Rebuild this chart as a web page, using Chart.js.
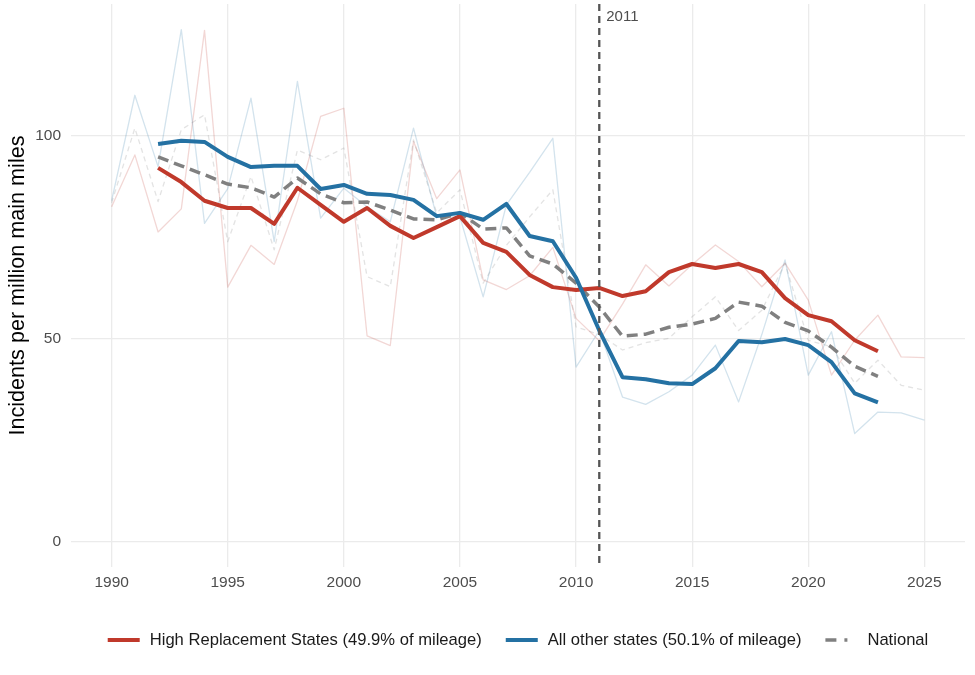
<!DOCTYPE html>
<html>
<head>
<meta charset="utf-8">
<script src="https://cdn.jsdelivr.net/npm/chart.js@4.4.1/dist/chart.umd.min.js"></script>
<style>
html,body{margin:0;padding:0;background:#fff;}
#wrap{width:975px;height:675px;position:relative;}
</style>
</head>
<body>
<div id="wrap"><canvas id="c" width="975" height="675"></canvas></div>
<script>
// ---- data ----
const rawYears = [1990,1991,1992,1993,1994,1995,1996,1997,1998,1999,2000,2001,2002,2003,2004,2005,2006,2007,2008,2009,2010,2011,2012,2013,2014,2015,2016,2017,2018,2019,2020,2021,2022,2023,2024,2025];
const highRaw = [82.5,95.3,76.3,82,126,62.7,73,68.3,84,104.8,106.8,50.7,48.3,98.6,84.5,91.6,64.5,62.1,65.5,72.5,55,49.5,58.5,68.2,63,68.3,73.1,69,62.8,68.6,59.5,41,49.6,55.8,45.5,45.3];
const otherRaw = [84,110,92.4,126.2,78.4,87,109.3,73.9,113.4,79.7,87.1,82.5,78.8,101.9,80,80,60.3,83,91,99.4,43,52,35.6,33.8,36.9,41,48.4,34.4,51,69.4,41,51.7,26.6,31.9,31.7,29.9];
const nationalRaw = [83.5,101.9,83.8,101.5,105.2,73.9,90,71.9,96.5,94.1,97,65.3,62.8,99,81,86.7,63.7,73,80,86.7,52.9,51,47.2,49,50.1,55.4,60.3,52,57,68.6,49.6,48,39,44.7,38.5,37.3];

const avgYears = [1992,1993,1994,1995,1996,1997,1998,1999,2000,2001,2002,2003,2004,2005,2006,2007,2008,2009,2010,2011,2012,2013,2014,2015,2016,2017,2018,2019,2020,2021,2022,2023];
const highAvg = [92.1,88.6,84,82.2,82.2,78.3,87.2,83,78.8,82.2,77.8,74.8,77.5,80.2,73.6,71.4,65.7,62.7,62,62.5,60.5,61.7,66.4,68.4,67.4,68.4,66.4,60,55.8,54.3,49.6,46.9];
const otherAvg = [98,98.8,98.5,94.8,92.3,92.6,92.6,86.9,87.9,85.7,85.4,84.2,80.2,81,79.3,83.2,75.3,74,65,52,40.5,40,39,38.8,42.7,49.4,49.1,49.9,48.4,44.2,36.5,34.3];
const nationalAvg = [94.8,92.6,90.4,88.1,87.2,84.9,89.6,85.7,83.5,83.7,81.7,79.5,79.3,81,77,77.3,70.4,68.4,63.7,57.8,50.6,51.1,52.8,53.6,55,59,58,54,51.9,47.9,43.2,40.7];

const xTicks = [1990,1995,2000,2005,2010,2015,2020,2025];
const yTicks = [0,50,100];
const markerYear = 2011;
const markerLabel = "2011";
const legendLabels = ["High Replacement States (49.9% of mileage)","All other states (50.1% of mileage)","National"];
const yTitle = "Incidents per million main miles";

// ---- styles ----
const RED = '#C0392B', BLUE = '#2471A3', GRAY = '#808080';
const FONT = '"Liberation Sans", Arial, sans-serif';
const pts = (xs, ys) => xs.map((x,i)=>({x:x,y:ys[i]}));

const datasets = [
  {data: pts(avgYears, otherAvg), borderColor: BLUE, borderWidth: 4},
  {data: pts(avgYears, highAvg), borderColor: RED, borderWidth: 4},
  {data: pts(avgYears, nationalAvg), borderColor: GRAY, borderWidth: 3.5, borderDash:[11,6]},
  {data: pts(rawYears, nationalRaw), borderColor: 'rgba(128,128,128,0.22)', borderWidth: 1.3, borderDash:[5,4]},
  {data: pts(rawYears, otherRaw), borderColor: 'rgba(36,113,163,0.2)', borderWidth: 1.3},
  {data: pts(rawYears, highRaw), borderColor: 'rgba(192,57,43,0.2)', borderWidth: 1.3},
].map(d => Object.assign({pointRadius:0, pointHoverRadius:0, tension:0, fill:false, borderJoinStyle:'round', borderCapStyle:'butt'}, d));

const markerPlugin = {
  id:'marker',
  afterDatasetsDraw(chart){
    const {ctx, chartArea, scales} = chart;
    const x = scales.x.getPixelForValue(markerYear);
    ctx.save();
    ctx.strokeStyle = '#555555';
    ctx.lineWidth = 2.3;
    ctx.setLineDash([7,5]);
    ctx.beginPath();
    ctx.moveTo(x, chartArea.top);
    ctx.lineTo(x, chartArea.bottom);
    ctx.stroke();
    ctx.setLineDash([]);
    ctx.fillStyle = '#4d4d4d';
    ctx.font = '15px ' + FONT;
    ctx.textAlign = 'left';
    ctx.textBaseline = 'middle';
    ctx.fillText(markerLabel, x + 7, 17);
    ctx.restore();
  }
};

const legendPlugin = {
  id:'customLegend',
  afterDraw(chart){
    const {ctx, chartArea} = chart;
    const items = [
      {label: legendLabels[0], color: RED, width: 4, dash: []},
      {label: legendLabels[1], color: BLUE, width: 4, dash: []},
      {label: legendLabels[2], color: GRAY, width: 3.5, dash: [11,8,3,20]},
    ];
    ctx.save();
    ctx.font = '16.6px ' + FONT;
    const keyW = 32, keyGap = 10, itemGap = 24;
    let total = 0;
    items.forEach((it,i)=>{ it.tw = ctx.measureText(it.label).width; total += keyW + keyGap + it.tw + (i<items.length-1?itemGap:0); });
    let x = (chartArea.left + chartArea.right)/2 - total/2;
    const y = 640;
    items.forEach(it=>{
      ctx.strokeStyle = it.color; ctx.lineWidth = it.width; ctx.setLineDash(it.dash);
      ctx.beginPath(); ctx.moveTo(x, y); ctx.lineTo(x+keyW, y); ctx.stroke();
      ctx.setLineDash([]);
      ctx.fillStyle = '#1a1a1a'; ctx.textAlign='left'; ctx.textBaseline='middle';
      ctx.fillText(it.label, x + keyW + keyGap, y);
      x += keyW + keyGap + it.tw + itemGap;
    });
    ctx.restore();
  }
};

new Chart(document.getElementById('c'), {
  type: 'line',
  data: { datasets },
  plugins: [markerPlugin, legendPlugin],
  options: {
    responsive: false,
    animation: false,
    events: [],
    parsing: true,
    layout: { padding: { left: 0, right: 10, top: 4, bottom: 78 } },
    plugins: { legend: {display:false}, tooltip: {enabled:false} },
    scales: {
      x: {
        type: 'linear', min: 1988.25, max: 2026.75,
        afterBuildTicks(s){ s.ticks = xTicks.map(v=>({value:v})); },
        afterFit(s){ s.height = 30; s.paddingLeft = 0; s.paddingRight = 0; },
        grid: { color: '#ebebeb', lineWidth: 1.3, drawTicks: false },
        border: { display: false },
        ticks: { color: '#4d4d4d', font: {family: FONT, size: 15.5}, padding: 6, maxRotation: 0, autoSkip: false, callback: v => String(v) }
      },
      y: {
        type: 'linear', min: -6.3, max: 132.5,
        afterBuildTicks(s){ s.ticks = yTicks.map(v=>({value:v})); },
        afterFit(s){ s.width = 71; s.paddingTop = 0; s.paddingBottom = 0; },
        grid: { color: '#ebebeb', lineWidth: 1.3, drawTicks: false },
        border: { display: false },
        ticks: { color: '#4d4d4d', font: {family: FONT, size: 15.5}, padding: 10, callback: v => String(v) },
        title: { display: true, text: yTitle, color: '#000', font: {family: FONT, size: 21.6}, padding: {top: 5, bottom: 0} }
      }
    }
  }
});
</script>
</body>
</html>
